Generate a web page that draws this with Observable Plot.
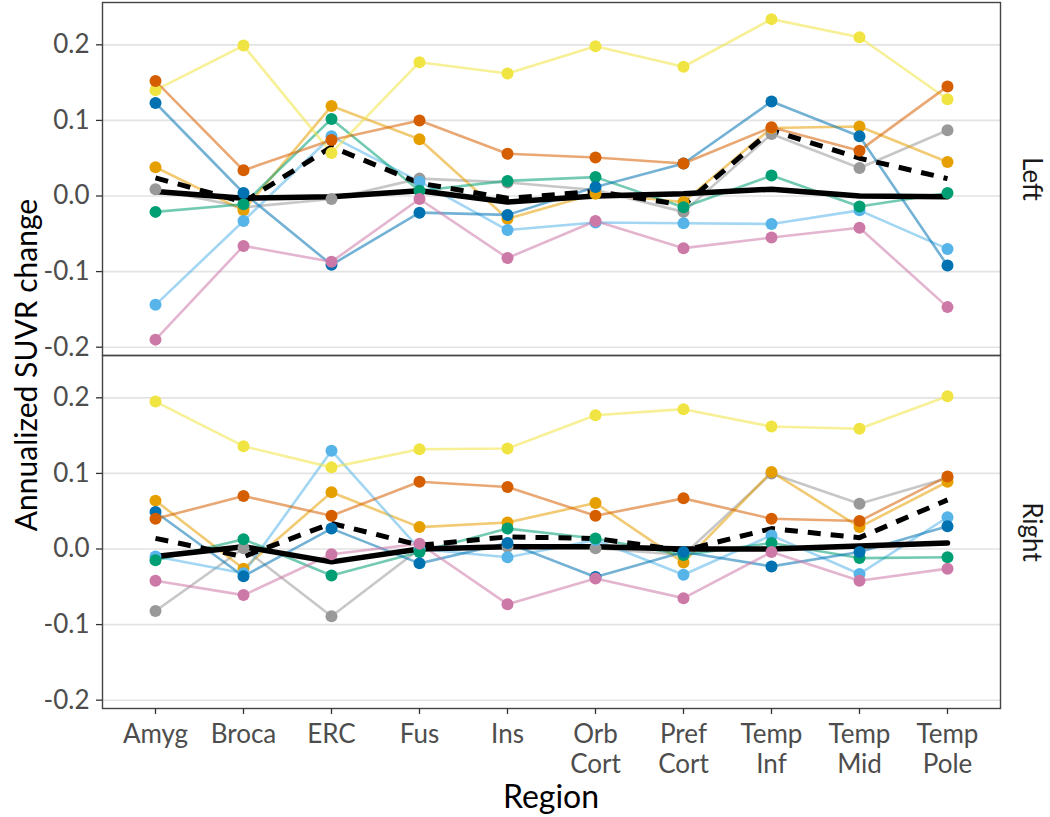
<!DOCTYPE html>
<html>
<head>
<meta charset="utf-8">
<script src="https://cdn.jsdelivr.net/npm/d3@7"></script>
<script src="https://cdn.jsdelivr.net/npm/@observablehq/plot@0.6"></script>
<style>
  html, body { margin: 0; padding: 0; background: #fff; }
  #chart { width: 1050px; height: 817px; }
</style>
</head>
<body>
<div id="chart"></div>
<script>
// ---- Data ----
const regions = ["Amyg", "Broca", "ERC", "Fus", "Ins", "Orb Cort", "Pref Cort", "Temp Inf", "Temp Mid", "Temp Pole"];
const sides = ["Left", "Right"];
const yTicks = [-0.2, -0.1, 0.0, 0.1, 0.2];

const seriesNames = ["s1", "s2", "s3", "s4", "s5", "s6", "s7", "s8"];
const seriesColors = ["#999999", "#E69F00", "#56B4E9", "#009E73", "#F0E442", "#0072B2", "#D55E00", "#CC79A7"];

// Left hemisphere
const left_s1 = [0.009, -0.015, -0.004, 0.023, 0.018, 0.008, -0.021, 0.082, 0.037, 0.087];
const left_s2 = [0.038, -0.019, 0.119, 0.075, -0.030, 0.003, -0.008, 0.090, 0.092, 0.045];
const left_s3 = [-0.144, -0.033, 0.079, 0.019, -0.045, -0.035, -0.036, -0.037, -0.019, -0.070];
const left_s4 = [-0.021, -0.011, 0.102, 0.007, 0.020, 0.025, -0.015, 0.027, -0.014, 0.004];
const left_s5 = [0.140, 0.199, 0.057, 0.177, 0.162, 0.198, 0.171, 0.234, 0.210, 0.128];
const left_s6 = [0.123, 0.004, -0.091, -0.022, -0.025, 0.012, 0.043, 0.125, 0.079, -0.092];
const left_s7 = [0.152, 0.034, 0.074, 0.100, 0.056, 0.051, 0.043, 0.091, 0.060, 0.145];
const left_s8 = [-0.190, -0.066, -0.087, -0.004, -0.082, -0.033, -0.069, -0.055, -0.042, -0.147];
const left_solid = [0.006, -0.003, -0.001, 0.007, -0.008, 0.000, 0.003, 0.009, 0.000, -0.001];
const left_dashed = [0.024, -0.008, 0.065, 0.017, -0.003, 0.006, -0.012, 0.087, 0.050, 0.023];

// Right hemisphere
const right_s1 = [-0.082, 0.001, -0.089, 0.000, 0.003, 0.001, -0.008, 0.100, 0.060, 0.094];
const right_s2 = [0.064, -0.026, 0.075, 0.029, 0.035, 0.061, -0.018, 0.102, 0.029, 0.089];
const right_s3 = [-0.010, -0.032, 0.130, 0.000, -0.011, 0.012, -0.034, 0.018, -0.033, 0.042];
const right_s4 = [-0.015, 0.013, -0.035, -0.004, 0.027, 0.014, -0.008, 0.008, -0.012, -0.011];
const right_s5 = [0.195, 0.136, 0.108, 0.132, 0.133, 0.177, 0.185, 0.162, 0.159, 0.202];
const right_s6 = [0.049, -0.036, 0.027, -0.019, 0.008, -0.037, -0.004, -0.023, -0.004, 0.030];
const right_s7 = [0.040, 0.070, 0.044, 0.089, 0.082, 0.044, 0.067, 0.040, 0.037, 0.096];
const right_s8 = [-0.042, -0.061, -0.007, 0.007, -0.073, -0.039, -0.065, -0.004, -0.042, -0.026];
const right_solid = [-0.010, 0.003, -0.017, 0.000, 0.003, 0.003, 0.000, 0.000, 0.004, 0.008];
const right_dashed = [0.014, -0.010, 0.034, 0.005, 0.016, 0.014, -0.002, 0.027, 0.015, 0.065];

// ---- Build tables ----
const seriesBySide = {
  Left: [left_s1, left_s2, left_s3, left_s4, left_s5, left_s6, left_s7, left_s8],
  Right: [right_s1, right_s2, right_s3, right_s4, right_s5, right_s6, right_s7, right_s8]
};
const solidBySide = {Left: left_solid, Right: right_solid};
const dashedBySide = {Left: left_dashed, Right: right_dashed};

const rows = [];
for (const side of sides) {
  seriesBySide[side].forEach((vals, i) => {
    vals.forEach((v, j) => rows.push({side, series: seriesNames[i], region: regions[j], value: v}));
  });
}
const solidRows = [];
const dashedRows = [];
for (const side of sides) {
  solidBySide[side].forEach((v, j) => solidRows.push({side, region: regions[j], value: v}));
  dashedBySide[side].forEach((v, j) => dashedRows.push({side, region: regions[j], value: v}));
}

const FONT = "Lato, 'Open Sans', sans-serif";

const chart = Plot.plot({
  width: 1050,
  height: 817,
  marginTop: 2,
  marginBottom: 109,
  marginLeft: 102,
  marginRight: 50,
  style: {fontFamily: FONT, background: "#fff", overflow: "visible"},
  x: {type: "point", domain: regions, padding: 0.6, axis: null},
  y: {domain: [-0.211, 0.256], axis: null},
  fy: {domain: sides, padding: 0, axis: null},
  color: {domain: seriesNames, range: seriesColors},
  marks: [
    Plot.ruleY(yTicks, {stroke: "#e3e3e3", strokeWidth: 1.6}),
    Plot.line(rows, {x: "region", y: "value", z: "series", stroke: "series", fy: "side",
      strokeOpacity: 0.55, strokeWidth: 2.6}),
    Plot.line(solidRows, {x: "region", y: "value", fy: "side", stroke: "#000", strokeWidth: 5.5}),
    Plot.line(dashedRows, {x: "region", y: "value", fy: "side", stroke: "#000", strokeWidth: 5,
      strokeDasharray: "13,10", strokeLinecap: "butt", strokeLinejoin: "miter"}),
    Plot.dot(rows, {x: "region", y: "value", fill: "series", fy: "side", r: 6, stroke: null}),
    Plot.frame({stroke: "#444", strokeWidth: 1.4}),
    Plot.axisY(yTicks, {tickSize: 6, tickPadding: 7, fontSize: 26, fill: "#4d4d4d", stroke: "#333",
      strokeWidth: 1.3, tickFormat: d => d.toFixed(1), label: null}),
    Plot.axisX({tickSize: 6, tickPadding: 7, fontSize: 26, fill: "#4d4d4d", stroke: "#333",
      strokeWidth: 1.3, lineHeight: 1.16, tickFormat: d => d.replace(" ", "\n"), label: null}),
    Plot.text(sides, {fy: d => d, text: d => d, frameAnchor: "right", dx: 31, rotate: 90,
      fontSize: 26, fill: "#1a1a1a", textAnchor: "middle"})
  ]
});

const svg = d3.select(chart);
svg.append("text")
  .attr("transform", "translate(37,365) rotate(-90)")
  .attr("text-anchor", "middle")
  .attr("font-family", FONT)
  .attr("font-size", 30)
  .attr("fill", "#000")
  .text("Annualized SUVR change");
svg.append("text")
  .attr("x", 551)
  .attr("y", 808)
  .attr("text-anchor", "middle")
  .attr("font-family", FONT)
  .attr("font-size", 32)
  .attr("fill", "#000")
  .text("Region");

document.getElementById("chart").appendChild(chart);
</script>
</body>
</html>
